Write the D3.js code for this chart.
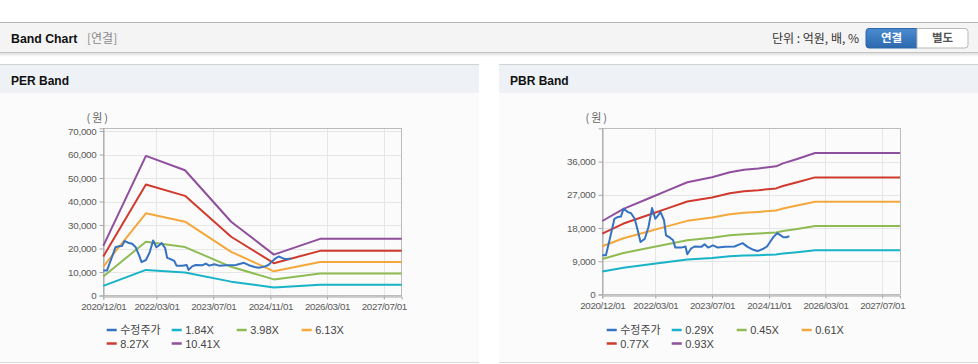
<!DOCTYPE html>
<html><head><meta charset="utf-8">
<script src="https://cdn.jsdelivr.net/npm/d3@7"></script>
<style>
html,body{margin:0;padding:0;background:#fff;overflow:hidden}
svg{display:block}
text{font-family:"Liberation Sans",Arial,"Noto Sans CJK KR",sans-serif}
.kr{font-family:"Noto Sans CJK KR","Liberation Sans",sans-serif}
</style></head><body>
<svg id="c" width="978" height="364"></svg>
<script>
// ---------------- data ----------------
const xTickDates = ["2020-12-01","2022-03-01","2023-07-01","2024-11-01","2026-03-01","2027-07-01"];
const perYTicks = [0,10000,20000,30000,40000,50000,60000,70000];
const pbrYTicks = [0,9000,18000,27000,36000];

const perLegend = ["수정주가","1.84X","3.98X","6.13X","8.27X","10.41X"];
const pbrLegend = ["수정주가","0.29X","0.45X","0.61X","0.77X","0.93X"];

// adjusted price (수정주가)
const priceDates = ["2020-12-01","2021-01-01","2021-02-01","2021-03-15","2021-04-15","2021-05-10","2021-06-01","2021-07-10","2021-08-05","2021-09-05","2021-10-01","2021-10-25","2021-12-01","2022-01-01","2022-02-01","2022-03-01","2022-03-25","2022-04-15","2022-05-15","2022-06-01","2022-07-01","2022-08-01","2022-08-20","2022-10-10","2022-11-15","2022-12-01","2023-01-01","2023-02-01","2023-04-01","2023-04-28","2023-05-28","2023-07-10","2023-08-20","2023-10-20","2024-01-10","2024-03-20","2024-05-01","2024-06-20","2024-07-25","2024-08-15","2024-09-15","2024-10-15","2024-11-10","2024-12-10","2025-01-10","2025-02-10","2025-03-05","2025-04-01","2025-04-25"];
const priceValues = [10600,10600,14700,20500,21000,21100,23200,22300,22000,20500,17400,14200,15100,18200,23400,20500,21400,22300,20100,16000,15500,14700,12700,12700,13000,10900,12400,13000,12900,13600,12700,13300,12700,12900,13000,13900,12900,12100,11800,12000,12400,13000,14200,15600,16600,16000,15500,15500,15800];

// PER band lines
const perBandDates = ["2020-12-01","2021-12-01","2022-11-01","2023-12-01","2024-12-01","2026-01-01","2027-12-01"];
const perBand184  = [4100,10900,9800,5900,3400,4550,4550];
const perBand398  = [8050,22900,20600,12200,6850,9350,9350];
const perBand613  = [12300,35000,31400,18600,10300,14300,14300];
const perBand827  = [16600,47200,42400,25000,13750,19000,19000];
const perBand1041 = [21100,59400,53300,31400,17400,24100,24100];

// PBR band lines
const pbrBandDates = ["2020-12-01","2021-06-01","2022-02-01","2022-06-01","2022-12-01","2023-07-01","2023-12-01","2024-04-01","2024-08-01","2025-01-01","2025-03-01","2025-07-01","2025-12-01","2027-12-01"];
const pbrBand029 = [6210,7240,8240,8740,9480,9910,10330,10530,10640,10830,11080,11450,11950,11950];
const pbrBand045 = [9630,11230,12780,13550,14710,15370,16020,16340,16500,16790,17180,17760,18540,18540];
const pbrBand061 = [13050,15220,17320,18370,19940,20830,21710,22140,22370,22760,23290,24080,25120,25120];
const pbrBand077 = [16480,19210,21860,23180,25170,26290,27410,27950,28230,28730,29390,30390,31710,31710];
const pbrBand093 = [19900,23200,26400,28000,30400,31750,33100,33750,34100,34700,35500,36700,38300,38300];

const colors = ["#3672c2","#19b3c8","#8fbb53","#f4a83b","#d03a2e","#8f4f9c"];

// ---------------- drawing ----------------
const parse = d3.timeParse("%Y-%m-%d");
const fmt = d3.timeFormat("%Y/%m/%d");
const svg = d3.select("#c");
const defs = svg.append("defs");

// header bar
const sh = defs.append("linearGradient").attr("id","sh").attr("x1",0).attr("x2",0).attr("y1",0).attr("y2",1);
sh.append("stop").attr("offset","0%").attr("stop-color","#000").attr("stop-opacity",0.13);
sh.append("stop").attr("offset","100%").attr("stop-color","#000").attr("stop-opacity",0);
const bg = defs.append("linearGradient").attr("id","btn").attr("x1",0).attr("x2",0).attr("y1",0).attr("y2",1);
bg.append("stop").attr("offset","0%").attr("stop-color","#4a8bd0");
bg.append("stop").attr("offset","100%").attr("stop-color","#2c68ad");

svg.append("rect").attr("x",0).attr("y",22).attr("width",978).attr("height",31).attr("fill","#f4f4f4");
svg.append("line").attr("x1",0).attr("x2",978).attr("y1",22.5).attr("y2",22.5).attr("stroke","#b3b3b3");
svg.append("line").attr("x1",0).attr("x2",978).attr("y1",52.5).attr("y2",52.5).attr("stroke","#c4c4c4");
svg.append("rect").attr("x",0).attr("y",53).attr("width",978).attr("height",4).attr("fill","url(#sh)");

svg.append("text").attr("x",11).attr("y",42.5).attr("font-size",12.3).attr("font-weight","bold").attr("fill","#111").text("Band Chart");
svg.append("text").attr("class","kr").attr("x",87).attr("y",42.5).attr("font-size",12).attr("fill","#8a8a8a").text("[연결]");
svg.append("text").attr("class","kr").attr("x",859).attr("y",42.5).attr("font-size",12).attr("fill","#333").attr("text-anchor","end").text("단위 : 억원, 배, %");

// buttons
svg.append("path").attr("d","M869,28.5 H917 V48 H869 Q866,48 866,45 V31.5 Q866,28.5 869,28.5 Z").attr("fill","url(#btn)").attr("stroke","#2e67a8");
svg.append("path").attr("d","M917,28.5 H965 Q968,28.5 968,31.5 V45 Q968,48 965,48 H917 Z").attr("fill","#fff").attr("stroke","#b8b8b8");
svg.append("text").attr("class","kr").attr("x",891.5).attr("y",42.3).attr("font-size",11.5).attr("font-weight","bold").attr("fill","#fff").attr("text-anchor","middle").text("연결");
svg.append("text").attr("class","kr").attr("x",942.5).attr("y",42.3).attr("font-size",11.5).attr("font-weight","bold").attr("fill","#555").attr("text-anchor","middle").text("별도");

function panel(px, pw, title){
  svg.append("rect").attr("x",px).attr("y",64).attr("width",pw).attr("height",299).attr("fill","#fbfbfb");
  svg.append("rect").attr("x",px).attr("y",65).attr("width",pw).attr("height",28).attr("fill","#eef2f7");
  svg.append("line").attr("x1",px).attr("x2",px+pw).attr("y1",64.5).attr("y2",64.5).attr("stroke","#d2d2d2");
  svg.append("line").attr("x1",px).attr("x2",px+pw).attr("y1",362.5).attr("y2",362.5).attr("stroke","#dadada");
  svg.append("text").attr("x",px+11).attr("y",84.5).attr("font-size",12).attr("font-weight","bold").attr("fill","#111").text(title);
}
panel(0,479,"PER Band");
panel(499,479,"PBR Band");

function chart(o){
  const g = svg.append("g");
  const x = d3.scaleTime().domain([parse("2020-12-01"), parse("2027-12-01")]).range([o.left, o.right]);
  const y = d3.scaleLinear().domain([0, o.ymax]).range([o.bottom, o.top]);
  const xt = xTickDates.map(parse);
  // grid
  g.selectAll(".gy").data(o.yTicks).enter().append("line")
    .attr("x1",o.left).attr("x2",o.right).attr("y1",d=>Math.round(y(d))+0.5).attr("y2",d=>Math.round(y(d))+0.5)
    .attr("stroke","#e6e6e6");
  g.selectAll(".gx").data(xt).enter().append("line")
    .attr("y1",o.top).attr("y2",o.bottom).attr("x1",d=>Math.round(x(d))+0.5).attr("x2",d=>Math.round(x(d))+0.5)
    .attr("stroke","#e6e6e6");
  // frame
  g.append("rect").attr("x",Math.round(o.left)+0.5).attr("y",Math.round(o.top)+0.5)
    .attr("width",Math.round(o.right-o.left)).attr("height",Math.round(o.bottom-o.top))
    .attr("fill","none").attr("stroke","#bcbcbc");
  // axes
  const ya = d3.axisLeft(y).tickValues(o.yTicks).tickSize(4).tickPadding(3).tickFormat(d3.format(","));
  const yg = g.append("g").attr("transform",`translate(${Math.round(o.left)+0.5},0)`).call(ya);
  const xa = d3.axisBottom(x).tickValues(xt).tickSize(3).tickPadding(4).tickFormat(fmt);
  const xg = g.append("g").attr("transform",`translate(0,${Math.round(o.bottom)+0.5})`).call(xa);
  [yg,xg].forEach(a=>{
    a.select(".domain").attr("stroke","#a8a8a8");
    a.selectAll(".tick line").attr("stroke","#a8a8a8");
    a.selectAll("text").attr("fill","#5a5a5a").attr("font-size",9.8).attr("font-family","'Liberation Sans',Arial,sans-serif");
  });
  xg.selectAll("text").attr("letter-spacing","-0.4px");
  yg.selectAll("text").attr("letter-spacing","-0.25px");
  g.append("text").attr("class","kr").attr("x",o.left-5).attr("y",121.5).attr("font-size",11).attr("fill","#666")
    .attr("letter-spacing","2px").attr("text-anchor","middle").text("(원)");
  // lines
  const line = d3.line().x(d=>x(d[0])).y(d=>y(d[1]));
  o.series.forEach((s,i)=>{
    const pts = s.dates.map((d,k)=>[parse(d), s.values[k]]);
    g.append("path").attr("d",line(pts)).attr("fill","none").attr("stroke",colors[s.c])
      .attr("stroke-width",2).attr("stroke-linejoin","round");
  });
  // legend
  o.legend.forEach((name,i)=>{
    const lx = o.legendX + (i%4)*65, ly = 330 + Math.floor(i/4)*13.5;
    g.append("line").attr("x1",lx).attr("x2",lx+10).attr("y1",ly).attr("y2",ly).attr("stroke",colors[i]).attr("stroke-width",2.5);
    g.append("text").attr("class", i===0 ? "kr" : null).attr("x",lx+13.5).attr("y",ly+4).attr("font-size",11).attr("fill","#444").text(name);
  });
}

chart({
  left:103.3, right:401.7, top:128.3, bottom:295.5, ymax:71150, yTicks:perYTicks,
  legend:perLegend, legendX:106.7,
  series:[
    {dates:perBandDates, values:perBand184, c:1},
    {dates:perBandDates, values:perBand398, c:2},
    {dates:perBandDates, values:perBand613, c:3},
    {dates:perBandDates, values:perBand827, c:4},
    {dates:perBandDates, values:perBand1041, c:5},
    {dates:priceDates, values:priceValues, c:0}
  ]
});
chart({
  left:602.3, right:900, top:128.3, bottom:294.5, ymax:45000, yTicks:pbrYTicks,
  legend:pbrLegend, legendX:606.7,
  series:[
    {dates:pbrBandDates, values:pbrBand029, c:1},
    {dates:pbrBandDates, values:pbrBand045, c:2},
    {dates:pbrBandDates, values:pbrBand061, c:3},
    {dates:pbrBandDates, values:pbrBand077, c:4},
    {dates:pbrBandDates, values:pbrBand093, c:5},
    {dates:priceDates, values:priceValues, c:0}
  ]
});
</script>
</body></html>
